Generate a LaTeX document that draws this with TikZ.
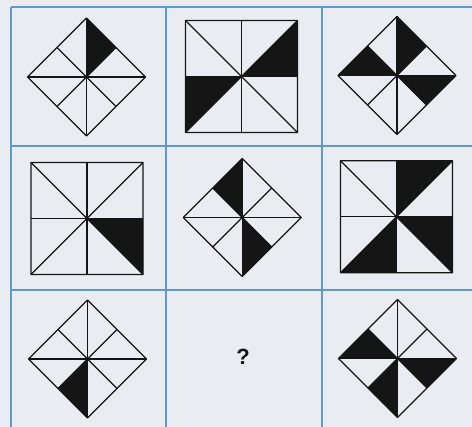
\documentclass[tikz,border=0pt]{standalone}
\usepackage{fontspec}
\newfontfamily\qfont{Liberation Sans}
\definecolor{bgcol}{HTML}{E9EDF1}
\definecolor{gridblue}{HTML}{5B9BCF}
\definecolor{ink}{HTML}{151515}
\newcommand\puzzlefig[5]{%
  \begin{scope}[shift={(#1,#2)},yscale=-1]
    \foreach \k in {#5}{%
      \pgfmathsetmacro\ra{mod(\k,2)==0 ? #3 : #4}%
      \pgfmathsetmacro\rb{mod(\k,2)==0 ? #4 : #3}%
      \fill[ink] (0,0) -- ({45*\k}:\ra) -- ({45*(\k+1)}:\rb) -- cycle;
    }
    \draw[figline] (0:#3) -- (45:#4) -- (90:#3) -- (135:#4) -- (180:#3) -- (225:#4) -- (270:#3) -- (315:#4) -- cycle;
    \foreach \j in {0,2,4,6}{\draw[figline] (0,0) -- ({45*\j}:#3);}
    \foreach \j in {1,3,5,7}{\draw[figline] (0,0) -- ({45*\j}:#4);}
  \end{scope}}
\begin{document}
\begin{tikzpicture}[x=1pt,y=-1pt,
  figline/.style={draw=ink,line width=1.3pt,line join=round},
  gridline/.style={draw=gridblue,line width=1.6pt}]
\fill[bgcol] (0,0) rectangle (472,427);
\useasboundingbox (0,0) rectangle (472,427);
% grid
\coordinate (v1t) at (11,7);  \coordinate (v1b) at (11,427);
\coordinate (v2t) at (166,7); \coordinate (v2b) at (166,427);
\coordinate (v3t) at (322,7); \coordinate (v3b) at (322,427);
\coordinate (h1l) at (11,7);  \coordinate (h1r) at (472,7);
\coordinate (h2l) at (11,146); \coordinate (h2r) at (472,146);
\coordinate (h3l) at (11,290); \coordinate (h3r) at (472,290);
\draw[gridline] (v1t) -- (v1b);
\draw[gridline] (v2t) -- (v2b);
\draw[gridline] (v3t) -- (v3b);
\draw[gridline] (h1l) -- (h1r);
\draw[gridline] (h2l) -- (h2r);
\draw[gridline] (h3l) -- (h3r);
% row 1
\puzzlefig{86.5}{77}{59}{41.7}{1}
\puzzlefig{241.5}{76.5}{56}{79.2}{0,4}
\puzzlefig{397}{75.5}{59}{41.7}{1,3,7}
% row 2
\puzzlefig{87}{218.5}{56}{79.2}{7}
\puzzlefig{242.3}{217.5}{59}{41.7}{2,6}
\puzzlefig{396.5}{216.7}{56}{79.2}{1,5,7}
% row 3
\puzzlefig{87.5}{359}{59}{41.7}{5}
\node[font=\qfont\bfseries\fontsize{22}{26}\selectfont,text=ink] (q) at (243,357) {?};
\puzzlefig{397.5}{358.5}{59}{41.7}{3,5,7}
\end{tikzpicture}
\end{document}
